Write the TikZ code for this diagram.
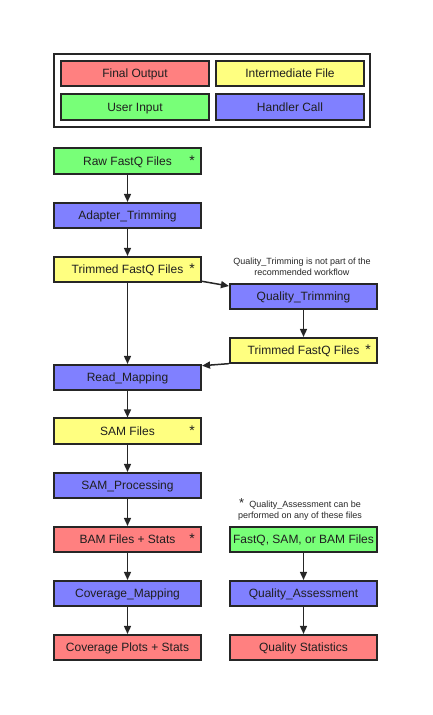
\documentclass[tikz,border=0pt]{standalone}
\usepackage{fontspec}
\setmainfont{Liberation Sans}
\usetikzlibrary{arrows.meta}
\definecolor{finalred}{RGB}{255,128,128}
\definecolor{interyellow}{RGB}{255,255,128}
\definecolor{inputgreen}{RGB}{120,255,120}
\definecolor{handlerblue}{RGB}{128,128,255}
\definecolor{edgegray}{RGB}{38,38,38}

\begin{document}
\begin{tikzpicture}[
 x=1pt, y=-1pt,
 box/.style={draw=edgegray, line width=1.6pt, fill=#1, minimum width=147.5pt,
 minimum height=25.5pt, inner sep=0pt, text height=8.6pt, text depth=0pt,
 font=\fontsize{12}{14}\selectfont, text=black!88},
 starmk/.style={inner sep=0pt, text height=8.6pt, text depth=0pt,
 font=\fontsize{14}{14}\selectfont, text=black!88},
 arr/.style={-{Triangle[length=8pt, width=7pt]}, line width=1.5pt, draw=edgegray},
 note/.style={font=\fontsize{9}{11}\selectfont, align=center, text=black!85}
]
\useasboundingbox (0,0) rectangle (432,715);

% Legend
\node[draw=edgegray, line width=1.6pt, minimum width=316.5pt, minimum height=73.5pt, inner sep=0pt] (legend) at (212,90.5) {};
\node[box=finalred] (lfinal) at (135,73.5) {Final Output};
\node[box=interyellow] (linter) at (290,73.5) {Intermediate File};
\node[box=inputgreen] (linput) at (135,107) {User Input};
\node[box=handlerblue] (lhandler) at (290,107) {Handler Call};

% Main pipeline
\node[box=inputgreen] (raw) at (127.5,161) {Raw FastQ Files};
\node[box=handlerblue] (adapt) at (127.5,215.5) {Adapter\_Trimming};
\node[box=interyellow] (trim) at (127.5,269.5) {Trimmed FastQ Files};
\node[box=handlerblue] (map) at (127.5,377.5) {Read\_Mapping};
\node[box=interyellow] (sam) at (127.5,431) {SAM Files};
\node[box=handlerblue] (samproc) at (127.5,485.5) {SAM\_Processing};
\node[box=finalred] (bam) at (127.5,539.5) {BAM Files + Stats};
\node[box=handlerblue] (covmap) at (127.5,593.5) {Coverage\_Mapping};
\node[box=finalred] (covplot) at (127.5,647.5) {Coverage Plots + Stats};

\draw[arr] (raw) -- (adapt);
\draw[arr] (adapt) -- (trim);
\draw[arr] (trim) -- (map);
\draw[arr] (map) -- (sam);
\draw[arr] (sam) -- (samproc);
\draw[arr] (samproc) -- (bam);
\draw[arr] (bam) -- (covmap);
\draw[arr] (covmap) -- (covplot);

% Optional quality trimming
\node[note] (trimnote) at (302,266.5) {Quality\_Trimming is not part of the\\recommended workflow};
\node[box=handlerblue] (qtrim) at (303.5,296.5) {Quality\_Trimming};
\node[box=interyellow] (trim2) at (303.5,350.5) {Trimmed FastQ Files};

\draw[arr] (trim.-9) -- (qtrim.172);
\draw[arr] (qtrim) -- (trim2);
\draw[arr] (trim2.190) -- (map.9);

% Quality assessment
\node[note] (qanote) at (300,509.5) {{\fontsize{13}{11}\selectfont*}\ \ Quality\_Assessment can be\\performed on any of these files};
\node[box=inputgreen] (fsb) at (303.5,539.5) {FastQ, SAM, or BAM Files};
\node[box=handlerblue] (qassess) at (303.5,593.5) {Quality\_Assessment};
\node[box=finalred] (qstats) at (303.5,647.5) {Quality Statistics};

\draw[arr] (fsb) -- (qassess);
\draw[arr] (qassess) -- (qstats);

% Asterisks
\node[starmk] (sraw) at (192,161) {*};
\node[starmk] (strim) at (192,269.5) {*};
\node[starmk] (strim2) at (368,350.5) {*};
\node[starmk] (ssam) at (192,431) {*};
\node[starmk] (sbam) at (192,539.5) {*};
\end{tikzpicture}
\end{document}
